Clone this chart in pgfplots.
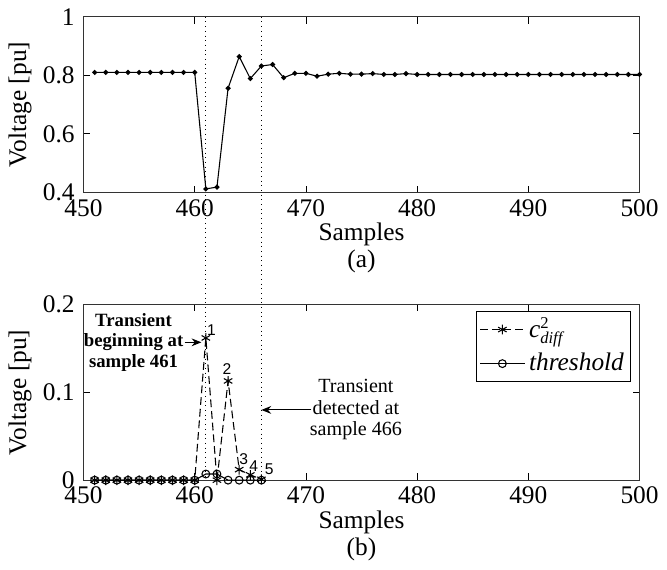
\documentclass[border=0pt]{standalone}
\usepackage{pgfplots}
\pgfplotsset{compat=1.18}
\usetikzlibrary{arrows.meta}
\usepackage{fontspec}
\setmainfont{Liberation Serif}
\setsansfont{Liberation Sans}
\begin{document}
\fontsize{13}{15}\selectfont
\begin{tikzpicture}
\pgfplotsset{
  myax/.style={
    scale only axis, width=285pt, height=90pt,
    xmin=450, xmax=500, xtick={450,460,...,500},
    tick align=inside, xtick pos=both, ytick pos=both,
    /pgf/number format/assume math mode=true,
    tick label style={font=\fontsize{13}{15}\selectfont},
    xticklabel style={yshift=1pt},
    label style={font=\fontsize{13}{14}\selectfont},
    xlabel style={align=center, yshift=5.5pt},
    ylabel style={yshift=-3pt},
    ylabel={Voltage [pu]},
    major tick length=3.5pt,
    every tick/.style={black, line width=0.4pt},
    axis line style={black!80, line width=0.6pt},
  }
}
\begin{axis}[myax, at={(0,147.5pt)}, ymin=0.4, ymax=1, ytick={0.4,0.6,0.8,1}, xlabel={Samples\\(a)}]
\addplot[black, line width=0.55pt, mark=*, mark size=1pt] coordinates {
(451,0.81) (452,0.81) (453,0.81) (454,0.81) (455,0.81) (456,0.81) (457,0.81) (458,0.81) (459,0.81) (460,0.81)
(461,0.412) (462,0.418) (463,0.756) (464,0.864) (465,0.789) (466,0.832) (467,0.837) (468,0.792) (469,0.807) (470,0.807)
(471,0.797) (472,0.804) (473,0.807) (474,0.804) (475,0.804) (476,0.806) (477,0.803) (478,0.803) (479,0.806) (480,0.803)
(481,0.803) (482,0.803) (483,0.803) (484,0.803) (485,0.803) (486,0.803) (487,0.803) (488,0.803) (489,0.803) (490,0.803)
(491,0.803) (492,0.803) (493,0.803) (494,0.803) (495,0.803) (496,0.803) (497,0.803) (498,0.803) (499,0.803) (500,0.803)
};
\coordinate (ta) at (axis cs:461,1);
\coordinate (tb) at (axis cs:466,1);
\end{axis}
\begin{axis}[myax, at={(0,0)}, ymin=0, ymax=0.2, ytick={0,0.1,0.2},
  yticklabel style={/pgf/number format/fixed},
  xlabel={Samples\\(b)},
  legend style={at={(0.985,0.965)}, anchor=north east, draw=black, line width=0.4pt,
    font=\fontsize{13}{15}\selectfont, inner sep=1.5pt, row sep=2pt},
  legend cell align=left,
  legend image code/.code={\draw[mark repeat=2,mark phase=2,#1] plot coordinates {(0cm,0cm) (0.4cm,0cm) (0.8cm,0cm)};}]
\addplot[black, line width=0.55pt, dash pattern=on 4pt off 2pt, mark=asterisk, mark size=2.5pt, mark options={solid}] coordinates {
(451,0) (452,0) (453,0) (454,0) (455,0) (456,0) (457,0) (458,0) (459,0) (460,0)
(461,0.162) (462,0) (463,0.113) (464,0.012) (465,0.006) (466,0.001)
};
\addlegendentry{\textit{c}$^{\mbox{\fontsize{8.5}{8.5}\selectfont 2}}_{\mbox{\fontsize{8.5}{8.5}\selectfont\itshape diff}}$}
\addplot[black, line width=0.55pt, mark=o, mark size=2pt] coordinates {
(451,0) (452,0) (453,0) (454,0) (455,0) (456,0) (457,0) (458,0) (459,0) (460,0)
(461,0.007) (462,0.007) (463,0) (464,0) (465,0) (466,0)
};
\addlegendentry{\textit{threshold}}
\coordinate (ba) at (axis cs:461,0);
\coordinate (bb) at (axis cs:466,0);
\node[align=center, font=\bfseries\fontsize{9.6}{10.5}\selectfont] at (axis cs:454.5,0.157) {Transient\\beginning at\\sample 461};
\draw[-{Stealth[length=5pt,width=4pt]}, line width=0.5pt] (axis cs:459.1,0.157) -- (axis cs:460.6,0.157);
\node[align=center, font=\fontsize{10.3}{11}\selectfont] at (axis cs:474.5,0.080) {Transient\\detected at\\sample 466};
\draw[-{Stealth[length=5pt,width=4pt]}, line width=0.5pt] (axis cs:470.5,0.080) -- (axis cs:466.0,0.080);
\begin{scope}[every node/.style={font=\sffamily\fontsize{8}{8}\selectfont, inner sep=0pt}]
\node at (axis cs:461.5,0.171) {1};
\node at (axis cs:462.9,0.126) {2};
\node at (axis cs:464.4,0.024) {3};
\node at (axis cs:465.3,0.016) {4};
\node at (axis cs:466.7,0.013) {5};
\end{scope}
\end{axis}
\draw[dotted, line width=0.4pt] (ta) -- (ba);
\draw[dotted, line width=0.4pt] (tb) -- (bb);
\end{tikzpicture}
\end{document}
